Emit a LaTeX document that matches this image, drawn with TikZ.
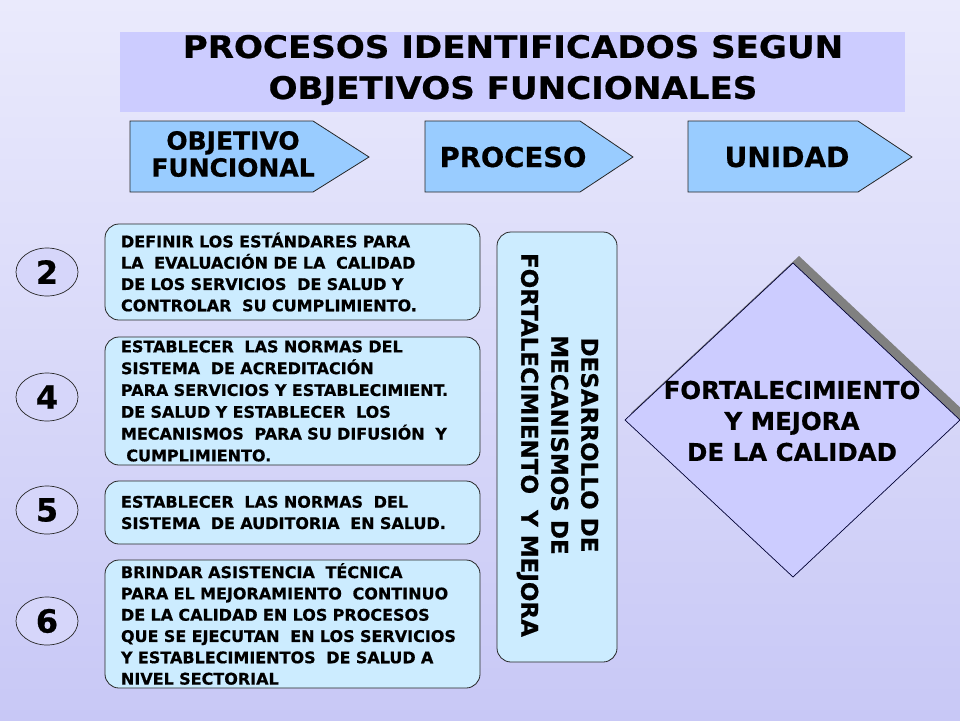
\documentclass[tikz,border=0pt]{standalone}
\usepackage{fontspec}
\setmainfont{DejaVu Sans}[BoldFeatures={FakeBold=0.6}]
\newfontfamily\widefont{DejaVu Sans}[FakeStretch=1.1, BoldFeatures={FakeBold=0.6}]
\usetikzlibrary{shapes.geometric}
\definecolor{bgtop}{RGB}{234,234,252}
\definecolor{bgbot}{RGB}{200,200,246}
\definecolor{titlefill}{RGB}{204,204,255}
\definecolor{arrowfill}{RGB}{153,204,255}
\definecolor{boxfill}{RGB}{204,236,255}
\definecolor{ellfill}{RGB}{214,214,250}
\definecolor{diamfill}{RGB}{204,204,255}
\definecolor{shadowgray}{RGB}{128,128,128}
\newcommand{\fsz}[2]{\fontsize{#1pt}{#2pt}\selectfont\bfseries}
\newcommand{\wfsz}[2]{\widefont\fontsize{#1pt}{#2pt}\selectfont\bfseries}
\tikzset{
  tagarrow/.style={fill=arrowfill, draw=black!85, line width=0.8pt},
  txtbox/.style={rectangle, rounded corners=14pt, fill=boxfill, draw=black!85, line width=0.8pt,
     minimum width=375pt, inner xsep=16pt, inner ysep=0pt, align=left, text width=343pt},
  numell/.style={ellipse, fill=ellfill, draw=black!85, line width=0.7pt,
     minimum width=62pt, minimum height=48pt, inner sep=0pt, font=\fsz{32}{36}},
  boxtext/.style={font=\fsz{16}{21.3}},
}
\begin{document}
\begin{tikzpicture}[x=1pt,y=-1pt]
\shade[top color=bgtop, bottom color=bgbot] (0,0) rectangle (960,720);
\useasboundingbox (0,0) rectangle (960,720);

% title
\fill[titlefill] (120,32) rectangle (905,112);
\node[font=\wfsz{31}{41}, align=center] (title) at (513,70) {PROCESOS IDENTIFICADOS SEGUN\\OBJETIVOS FUNCIONALES};

% header tags
\draw[tagarrow] (130,121) -- (313,121) -- (369,157) -- (313,192) -- (130,192) -- cycle;
\node[font=\fsz{25}{27}, align=center] (objf) at (233,154) {OBJETIVO\\FUNCIONAL};
\draw[tagarrow] (425,121) -- (580,121) -- (633,157) -- (580,192) -- (425,192) -- cycle;
\node[font=\fsz{27.5}{32}] (proc) at (513,157) {PROCESO};
\draw[tagarrow] (688,121) -- (858,121) -- (912,157) -- (858,192) -- (688,192) -- cycle;
\node[font=\fsz{28}{32}] (unid) at (787,157) {UNIDAD};

% numbers
\node[numell] (n2) at (47,272) {2};
\node[numell] (n4) at (47,397) {4};
\node[numell] (n5) at (47,510) {5};
\node[numell] (n6) at (47,621) {6};

% objective boxes
\node[txtbox, minimum height=96pt, boxtext] (b2) at (292.5,272) {DEFINIR LOS ESTÁNDARES PARA\\LA \ EVALUACIÓN DE LA \ CALIDAD\\DE LOS SERVICIOS \ DE SALUD Y\\CONTROLAR \ SU CUMPLIMIENTO.};
\node[txtbox, minimum height=128pt, boxtext, font=\fsz{16}{21.8}] (b4) at (292.5,401) {ESTABLECER \ LAS NORMAS DEL\\SISTEMA \ DE ACREDITACIÓN\\PARA SERVICIOS Y ESTABLECIMIENT.\\DE SALUD Y ESTABLECER \ LOS\\MECANISMOS \ PARA SU DIFUSIÓN \ Y\\\ CUMPLIMIENTO.};
\node[txtbox, minimum height=63pt, boxtext] (b5) at (292.5,512.5) {ESTABLECER \ LAS NORMAS \ DEL\\SISTEMA \ DE AUDITORIA \ EN SALUD.};
\node[txtbox, minimum height=128pt, boxtext] (b6) at (292.5,624) {BRINDAR ASISTENCIA \ TÉCNICA\\PARA EL MEJORAMIENTO \ CONTINUO\\DE LA CALIDAD EN LOS PROCESOS\\QUE SE EJECUTAN \ EN LOS SERVICIOS\\Y ESTABLECIMIENTOS \ DE SALUD A\\NIVEL SECTORIAL};

% process box
\node[rectangle, fill=boxfill, draw=black!85, line width=0.8pt, rounded corners=14pt,
      minimum width=120pt, minimum height=430pt] (pbox) at (557,447) {};
\node[rotate=-90, font=\fsz{23}{30}, align=center] (procbox) at (557.5,445) {DESARROLLO DE\\MECANISMOS DE\\FORTALECIMIENTO \ Y MEJORA};

% unit diamond with shadow
\fill[shadowgray] (799,256) -- (966,413) -- (799,570) -- (631,413) -- cycle;
\draw[fill=diamfill, draw=black!80!blue, line width=0.7pt] (793,263) -- (960,420) -- (793,577) -- (625,420) -- cycle;
\node[font=\fsz{24.5}{31}, align=center] (unit) at (792,421) {FORTALECIMIENTO\\Y MEJORA\\DE LA CALIDAD};
\end{tikzpicture}
\end{document}
